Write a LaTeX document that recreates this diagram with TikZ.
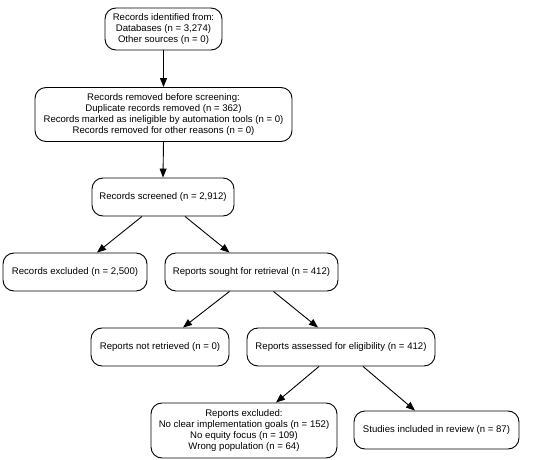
\documentclass[tikz,border=0pt]{standalone}
\usepackage{fontspec}
\setmainfont{Liberation Sans}
\usetikzlibrary{arrows.meta}
\begin{document}
\begin{tikzpicture}[x=1pt,y=-1pt,
  box/.style={draw=black, line width=0.9pt, rounded corners=11pt, align=center, inner sep=0pt,
    font=\fontsize{9.6}{11.3}\selectfont, text=black},
  arr/.style={draw=black, line width=0.9pt, -{Triangle[length=9pt,width=7pt]}}]
\useasboundingbox (0,0) rectangle (555,460);
\node[box, minimum width=117pt, minimum height=42pt] (n1) at (163.5,29) {Records identified from:\\Databases (n = 3,274)\\Other sources (n = 0)};
\node[box, minimum width=257pt, minimum height=54pt] (n2) at (163.5,114.5) {Records removed before screening:\\Duplicate records removed (n = 362)\\Records marked as ineligible by automation tools (n = 0)\\Records removed for other reasons (n = 0)};
\node[box, minimum width=142pt, minimum height=38pt] (n3) at (163,197) {Records screened (n = 2,912)};
\node[box, minimum width=144pt, minimum height=38pt] (n4) at (75,272) {Records excluded (n = 2,500)};
\node[box, minimum width=173pt, minimum height=38pt] (n5) at (251.5,272) {Reports sought for retrieval (n = 412)};
\node[box, minimum width=138pt, minimum height=38pt] (n6) at (160,347) {Reports not retrieved (n = 0)};
\node[box, minimum width=188pt, minimum height=38pt] (n7) at (341,347) {Reports assessed for eligibility (n = 412)};
\node[box, minimum width=186pt, minimum height=55pt] (n8) at (244,430.5) {Reports excluded:\\No clear implementation goals (n = 152)\\No equity focus (n = 109)\\Wrong population (n = 64)};
\node[box, minimum width=165pt, minimum height=38pt] (n9) at (436.5,430) {Studies included in review (n = 87)};
\draw[arr] (n1.south) -- (n2.north);
\draw[arr] (n2.south) -- (n3.north);
\draw[arr] ([xshift=-21pt]n3.south) -- ([xshift=22pt]n4.north);
\draw[arr] ([xshift=22pt]n3.south) -- ([xshift=-22pt]n5.north);
\draw[arr] ([xshift=-22pt]n5.south) -- ([xshift=23pt]n6.north);
\draw[arr] ([xshift=22pt]n5.south) -- ([xshift=-23pt]n7.north);
\draw[arr] ([xshift=-22pt]n7.south) -- ([xshift=32pt]n8.north);
\draw[arr] ([xshift=22pt]n7.south) -- ([xshift=-21.5pt]n9.north);
\end{tikzpicture}
\end{document}
